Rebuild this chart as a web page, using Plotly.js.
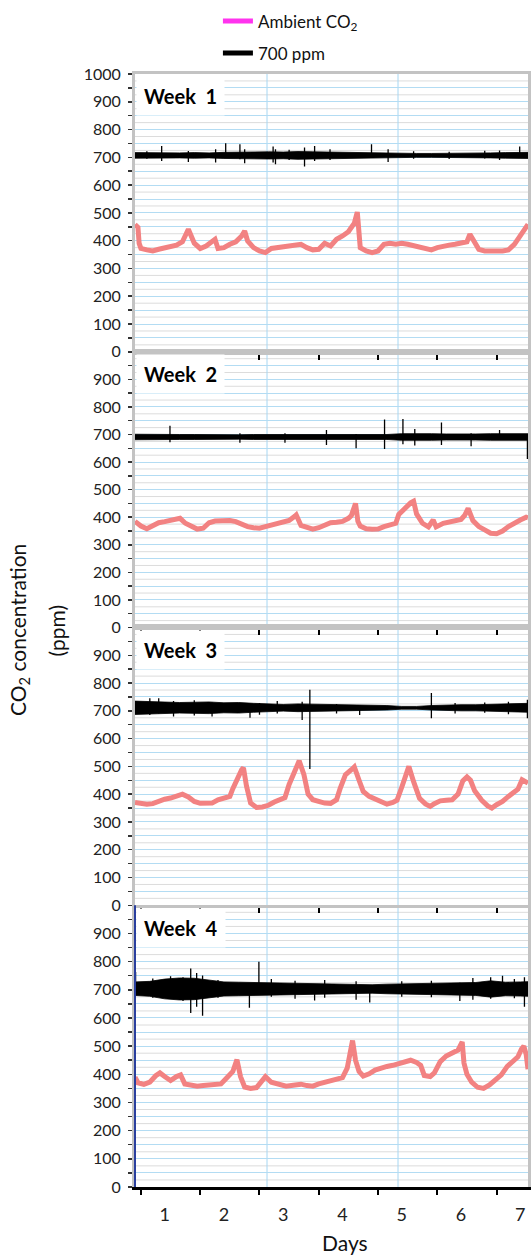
<!DOCTYPE html>
<html><head><meta charset="utf-8">
<script src="https://cdn.plot.ly/plotly-3.0.1.min.js"></script>
<style>html,body{margin:0;padding:0;background:#fff}#chart{width:532px;height:1259px}</style>
</head><body><div id="chart"></div>
<script>
// ---------- data ----------
const dayLabels = ['1','2','3','4','5','6','7'];
const dayLabelPos = [0.4,1.4,2.4,3.4,4.4,5.4,6.4];
const dayBoundaries = [0,1,2,3,4,5,6];
const verticalGridDays = [2.127,4.337];
const yLabelValsTop = [0,100,200,300,400,500,600,700,800,900,1000];
const yLabelVals = [0,100,200,300,400,500,600,700,800,900];
const greyGridVals = [25,75,125,175,225,275,325,375,425,475,525,575,625,675,725,775,825,875,925,975];
const weekNames = ['Week 1','Week 2','Week 3','Week 4'];

// Ambient CO2 (ppm)
const w1Days = [-0.1,-0.05,-0.03,0,0.1,0.2,0.3,0.4,0.5,0.6,0.7,0.8,0.9,1.0,1.1,1.2,1.25,1.3,1.4,1.5,1.6,1.7,1.75,1.8,1.9,2.0,2.1,2.2,2.3,2.4,2.5,2.6,2.7,2.8,2.9,3.0,3.1,3.2,3.3,3.4,3.5,3.6,3.65,3.7,3.8,3.9,4.0,4.1,4.2,4.3,4.4,4.5,4.6,4.7,4.8,4.9,5.0,5.1,5.2,5.3,5.4,5.5,5.55,5.6,5.7,5.8,5.9,6.0,6.1,6.2,6.3,6.4,6.5,6.53];
const w1Ambient = [458,448,390,372,367,363,369,375,379,384,396,441,391,372,381,396,405,372,375,387,396,417,435,399,375,363,357,372,375,379,381,387,387,375,367,369,391,381,405,417,432,463,503,375,363,357,363,387,391,387,391,387,381,375,369,367,375,381,384,387,391,396,423,405,369,363,361,363,363,367,387,417,453,459];

const w2Days = [-0.1,0,0.1,0.2,0.3,0.4,0.5,0.6,0.66,0.75,0.85,0.95,1.05,1.15,1.25,1.35,1.5,1.6,1.7,1.8,1.9,2.0,2.1,2.2,2.3,2.4,2.5,2.6,2.62,2.7,2.8,2.9,3.0,3.1,3.2,3.3,3.4,3.5,3.55,3.62,3.66,3.7,3.8,3.9,4.0,4.1,4.2,4.3,4.35,4.45,4.55,4.6,4.65,4.75,4.85,4.93,4.98,5.1,5.2,5.3,5.4,5.46,5.52,5.6,5.7,5.8,5.9,6.0,6.1,6.2,6.3,6.4,6.5,6.53];
const w2Ambient = [385,368,358,368,380,384,388,392,396,378,365,357,360,380,386,388,388,384,374,366,362,360,366,372,380,386,388,404,408,370,362,357,362,370,380,382,385,396,406,450,385,368,358,356,357,366,372,378,410,432,452,458,412,378,365,390,365,378,384,386,392,406,432,388,366,354,342,340,350,366,380,390,400,398];

const w3Days = [-0.1,0,0.1,0.2,0.3,0.4,0.5,0.6,0.7,0.8,0.9,1.0,1.1,1.2,1.3,1.4,1.5,1.55,1.62,1.7,1.73,1.78,1.85,1.95,2.05,2.15,2.25,2.35,2.43,2.5,2.6,2.67,2.75,2.82,2.9,3.0,3.1,3.2,3.3,3.36,3.45,3.55,3.6,3.68,3.75,3.85,3.95,4.05,4.15,4.25,4.32,4.4,4.48,4.52,4.6,4.7,4.8,4.88,4.95,5.05,5.15,5.25,5.35,5.43,5.5,5.56,5.63,5.75,5.85,5.92,6.0,6.1,6.2,6.3,6.36,6.43,6.48,6.53];
const w3Ambient = [370,366,364,366,376,382,386,392,400,390,374,367,366,368,380,388,392,420,455,488,495,430,368,352,354,360,372,382,388,435,480,520,470,400,380,372,368,367,380,420,470,488,498,450,410,392,382,372,364,370,378,425,475,500,445,385,365,356,366,376,378,380,400,448,462,450,412,378,358,350,362,374,392,405,418,452,448,440];

const w4Days = [-0.1,-0.05,0.05,0.15,0.25,0.32,0.4,0.5,0.6,0.67,0.74,0.85,0.95,1.05,1.15,1.25,1.35,1.45,1.55,1.62,1.68,1.75,1.85,1.95,2.05,2.1,2.2,2.3,2.45,2.6,2.7,2.8,2.9,3.0,3.1,3.2,3.3,3.4,3.48,3.53,3.57,3.62,3.68,3.75,3.85,3.95,4.05,4.15,4.25,4.35,4.45,4.55,4.65,4.72,4.78,4.88,4.95,5.05,5.15,5.25,5.35,5.42,5.45,5.5,5.58,5.68,5.78,5.88,5.98,6.08,6.18,6.28,6.36,6.42,6.46,6.5,6.53];
const w4Ambient = [390,370,364,372,395,405,392,378,392,398,366,360,358,360,362,362,366,388,410,452,392,355,350,353,380,392,372,366,358,362,365,360,358,366,372,378,382,388,422,470,520,450,410,394,402,415,423,428,432,438,444,450,442,432,396,392,405,445,465,475,486,515,440,400,372,354,350,362,380,398,428,448,462,490,500,470,418];

// 700 ppm chamber: band of readings (max / min)
const blackDays = [-0.1,0.15,0.4,0.65,0.9,1.15,1.4,1.65,1.9,2.15,2.4,2.65,2.9,3.15,3.4,3.65,3.9,4.15,4.4,4.65,4.9,5.15,5.4,5.65,5.9,6.15,6.4,6.53];
const w1BlackHi = [717,716,717,716,717,716,718,719,718,720,719,721,720,719,717,716,717,716,715,714,714,714,715,715,716,717,719,718];
const w1BlackLo = [697,698,697,698,697,698,696,695,696,694,695,693,694,695,697,698,697,698,699,700,700,700,699,699,698,697,695,696];
const w2BlackHi = [701,700,701,700,700,699,700,699,700,700,699,701,700,700,701,700,699,700,703,704,703,702,701,702,703,703,704,703];
const w2BlackLo = [681,682,681,682,682,683,682,683,682,682,683,681,682,682,681,682,683,682,679,678,679,680,681,680,679,679,678,679];
const w3BlackHi = [735,733,732,730,731,732,729,730,727,725,723,725,724,722,722,721,721,719,716,716,719,721,722,722,723,724,726,727];
const w3BlackLo = [687,689,690,692,691,690,693,692,695,697,699,697,698,700,700,701,701,703,706,706,703,701,700,700,699,698,696,695];
const w4BlackHi = [728,730,738,742,741,734,728,727,726,725,724,723,724,722,720,719,718,720,721,722,723,724,725,726,732,727,728,729];
const w4BlackLo = [680,677,668,664,665,672,678,679,680,681,682,683,682,684,686,687,688,686,685,684,683,682,681,680,674,679,678,677];

// 700 ppm spikes (time, top, bottom)
const w1SpikeDays = [0.1,0.35,0.80,1.26,1.43,1.67,1.75,2.23,2.27,2.5,2.76,2.93,3.19,3.89,4.17,4.6,5.2,5.8,6.05,6.39];
const w1SpikeHi = [722,741,723,729,751,747,729,739,729,727,735,741,729,747,729,722,720,724,725,739];
const w1SpikeLo = [695,687,683,681,703,693,679,681,675,690,667,687,690,705,683,695,694,696,690,699];
const w2SpikeDays = [0.49,1.67,2.43,3.13,3.63,4.11,4.42,4.62,5.07,5.57,6.05,6.52];
const w2SpikeHi = [732,705,705,716,702,754,756,720,744,705,716,702];
const w2SpikeLo = [672,670,670,662,650,647,665,660,662,657,680,611];
const w3SpikeDays = [0.15,0.3,0.55,0.9,1.2,1.84,2.0,2.3,2.72,2.85,3.3,3.69,4.90,5.3,5.8,6.2,6.52];
const w3SpikeHi = [745,745,735,738,730,720,728,735,733,776,725,715,764,728,730,733,740];
const w3SpikeLo = [685,690,680,683,680,675,686,690,667,491,690,685,673,690,693,688,673];
const w4SpikeDays = [-0.09,0.2,0.5,0.71,0.84,0.94,1.04,1.3,1.83,1.99,2.2,2.6,2.93,3.1,3.63,3.86,4.4,4.9,5.38,5.6,5.9,6.10,6.3,6.47];
const w4SpikeHi = [763,740,748,745,776,760,751,735,700,800,738,732,715,735,730,715,730,732,725,742,745,750,738,745];
const w4SpikeLo = [700,672,668,660,618,640,608,672,636,695,675,668,662,672,665,655,675,674,660,665,668,685,670,640];

// ---------- build ----------
const weeks = [
  {days:w1Days, amb:w1Ambient, hi:w1BlackHi, lo:w1BlackLo, sd:w1SpikeDays, sh:w1SpikeHi, sl:w1SpikeLo},
  {days:w2Days, amb:w2Ambient, hi:w2BlackHi, lo:w2BlackLo, sd:w2SpikeDays, sh:w2SpikeHi, sl:w2SpikeLo},
  {days:w3Days, amb:w3Ambient, hi:w3BlackHi, lo:w3BlackLo, sd:w3SpikeDays, sh:w3SpikeHi, sl:w3SpikeLo},
  {days:w4Days, amb:w4Ambient, hi:w4BlackHi, lo:w4BlackLo, sd:w4SpikeDays, sh:w4SpikeHi, sl:w4SpikeLo}
];
const FONT = 'Lato, "Open Sans", "DejaVu Sans", sans-serif';
const PINK = '#f28282', MAGENTA = '#ff33ee';
const BLUE_GRID = '#b3dcf3', GREY_GRID = '#dcdcdc', FRAME = '#c3c3c3';
const domains = [[0.7504,1],[0.5027,0.7504],[0.2531,0.5027],[0,0.2531]];

const traces = [
  {x:[null], y:[null], mode:'lines', name:'Ambient CO<sub>2</sub>', line:{color:MAGENTA, width:5}, legendgroup:'a', hoverinfo:'skip'},
  {x:[null], y:[null], mode:'lines', name:'700 ppm', line:{color:'#000', width:5}, legendgroup:'b', hoverinfo:'skip'}
];
const layout = {
  width:532, height:1259,
  margin:{l:135, r:4, t:73, b:72},
  paper_bgcolor:'#fff', plot_bgcolor:'#fff',
  font:{family:FONT, size:16, color:'#222'},
  showlegend:true,
  legend:{x:0.211, y:1.0625, xanchor:'left', yanchor:'top', font:{size:17, color:'#111'}, tracegroupgap:7, bgcolor:'rgba(0,0,0,0)'},
  annotations:[], shapes:[]
};

weeks.forEach((w, i) => {
  const n = i + 1;
  const xa = n === 1 ? 'x' : 'x' + n;
  const ya = n === 1 ? 'y' : 'y' + n;
  traces.push({x:w.days, y:w.amb, xaxis:xa, yaxis:ya, mode:'lines', line:{color:PINK, width:5}, showlegend:false, hoverinfo:'skip'});
  traces.push({x:blackDays, y:w.lo, xaxis:xa, yaxis:ya, mode:'lines', line:{color:'#000', width:0.8}, showlegend:false, hoverinfo:'skip'});
  traces.push({x:blackDays, y:w.hi, xaxis:xa, yaxis:ya, mode:'lines', fill:'tonexty', fillcolor:'#000', line:{color:'#000', width:0.8}, showlegend:false, hoverinfo:'skip'});
  const sx = [], sy = [];
  w.sd.forEach((d, k) => { sx.push(d, d, null); sy.push(w.sh[k], w.sl[k], null); });
  traces.push({x:sx, y:sy, xaxis:xa, yaxis:ya, mode:'lines', line:{color:'#000', width:1.3}, connectgaps:false, showlegend:false, hoverinfo:'skip'});

  layout[n === 1 ? 'xaxis' : 'xaxis' + n] = {
    domain:[0,1], anchor:ya, range:[-0.1,6.53],
    tickmode:'array', tickvals:dayLabelPos, ticktext:dayLabels, ticks:'',
    showticklabels:n === 4, tickfont:{size:18, color:'#222'}, ticklabelstandoff:10,
    showgrid:false, zeroline:false,
    minor:{tickmode:'array', tickvals:dayBoundaries, ticks:'outside', ticklen:5, tickwidth:2, tickcolor:'#000', showgrid:false},
    showline:true, linecolor:n === 4 ? '#000' : FRAME, linewidth:n === 4 ? 2.5 : 3, mirror:n !== 4,
    matches:n === 1 ? undefined : 'x', fixedrange:true
  };
  layout[n === 1 ? 'yaxis' : 'yaxis' + n] = {
    domain:domains[i], anchor:xa, range:[0,1000],
    tickmode:'array', tickvals:n === 1 ? yLabelValsTop : yLabelVals,
    ticks:'outside', ticklen:4, tickwidth:1.5, tickcolor:'#333', tickfont:{size:16, color:'#222'}, ticklabelstandoff:4,
    showgrid:true, gridcolor:BLUE_GRID, gridwidth:1,
    minor:{tickmode:'linear', tick0:0, dtick:50, showgrid:true, gridcolor:BLUE_GRID, gridwidth:1, ticks:'outside', ticklen:4, tickwidth:1.5, tickcolor:'#333'},
    showline:true, linecolor:FRAME, linewidth:3, mirror:true, zeroline:false, fixedrange:true
  };
  greyGridVals.forEach(v => {
    layout.shapes.push({type:'line', xref:'paper', yref:ya, x0:0, x1:1, y0:v, y1:v, line:{color:GREY_GRID, width:1}, layer:'below'});
  });
  verticalGridDays.forEach(gd => {
    layout.shapes.push({type:'line', xref:xa, yref:'paper', x0:gd, x1:gd, y0:domains[i][0], y1:domains[i][1], line:{color:'#a6d6f2', width:1}, layer:'below'});
  });
  layout.annotations.push({
    xref:'paper', yref:'paper', x:0.0025, y:domains[i][1] - 0.002, xanchor:'left', yanchor:'top',
    text:'<b>' + weekNames[i].replace(' ', '\u00a0 ') + '</b>', showarrow:false,
    bgcolor:'#fff', borderpad:7, font:{size:20, color:'#000'}
  });
});

layout.shapes.push({type:'line', xref:'paper', yref:'paper', x0:0, x1:0, y0:domains[3][0], y1:domains[3][1], line:{color:'#2a3f9e', width:2}, layer:'above'});

layout.annotations.push(
  {xref:'paper', yref:'paper', x:-0.2964, y:0.5, xanchor:'center', yanchor:'middle', textangle:-90, showarrow:false,
   text:'CO<sub>2</sub> concentration', font:{size:21, color:'#111'}},
  {xref:'paper', yref:'paper', x:-0.1985, y:0.5, xanchor:'center', yanchor:'middle', textangle:-90, showarrow:false,
   text:'(ppm)', font:{size:21, color:'#111'}},
  {xref:'paper', yref:'paper', x:0.534, y:-0.05, xanchor:'center', yanchor:'middle', showarrow:false,
   text:'Days', font:{size:21, color:'#111'}}
);

Plotly.newPlot('chart', traces, layout, {staticPlot:true, displayModeBar:false});
</script></body></html>
